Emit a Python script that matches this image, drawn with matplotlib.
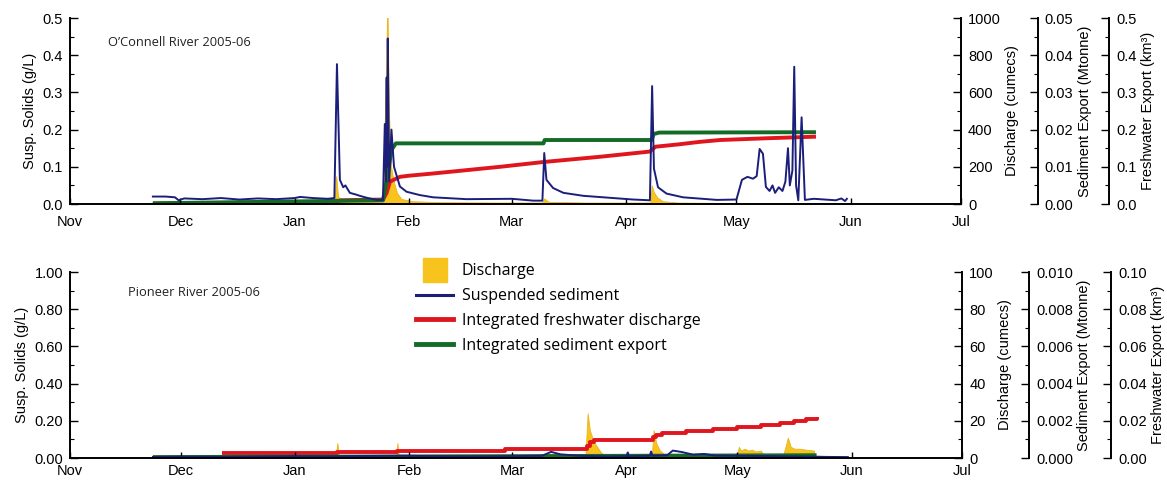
import numpy as np
import matplotlib
matplotlib.use("Agg")
import matplotlib.pyplot as plt
from matplotlib.lines import Line2D
from matplotlib.ticker import MultipleLocator, FormatStrFormatter

plt.rcParams['font.family'] = ['Liberation Sans', 'DejaVu Sans']
plt.rcParams['font.size'] = 10

# x axis: days since 1 Nov 2005
MONTHS = ['Nov', 'Dec', 'Jan', 'Feb', 'Mar', 'Apr', 'May', 'Jun', 'Jul']
MONTH_DAYS = [0, 30, 61, 92, 120, 151, 181, 212, 242]

YELLOW = '#f7c31c'
BLUE = '#1b1f7a'
RED = '#e0161e'
GREEN = '#136b25'

# ---- O'Connell River 2005-06 ----
oc_ss_day = [22.5, 26, 28.5, 29.5, 31, 36, 41, 46, 51, 56, 61, 62.5, 66, 70, 71.8, 72.5, 73.3, 74.2, 74.8,
             76, 77.8, 78.7, 80.5, 83.3, 85.0, 85.5, 85.8, 86.0, 86.15, 86.3, 86.7, 87.3, 88.0, 89.6, 91.4,
             95, 98.6, 107.7, 120, 125.8, 128.3, 128.8, 129.4, 131.2, 134, 139.4, 153, 157.5, 158.1, 158.6,
             159.7, 162, 166.5, 175.7, 181, 182.5, 184, 185.5, 186.5, 187.3, 188.2, 189, 190, 190.8, 191.5,
             192.5, 193.5, 194.3, 195, 195.5, 196.2, 196.7, 197.2, 197.8, 198.7, 199.6, 202, 205, 208,
             209.5, 210.5, 211]
oc_ss = [0.020, 0.020, 0.018, 0.010, 0.015, 0.013, 0.016, 0.012, 0.015, 0.013, 0.016, 0.019, 0.016, 0.014,
         0.016, 0.376, 0.065, 0.045, 0.050, 0.030, 0.025, 0.022, 0.017, 0.011, 0.011, 0.215, 0.060, 0.340,
         0.100, 0.445, 0.060, 0.200, 0.100, 0.047, 0.033, 0.024, 0.018, 0.013, 0.014, 0.009, 0.009, 0.137,
         0.065, 0.043, 0.030, 0.022, 0.012, 0.010, 0.317, 0.095, 0.045, 0.028, 0.018, 0.011, 0.012, 0.065,
         0.073, 0.068, 0.075, 0.148, 0.135, 0.046, 0.035, 0.050, 0.030, 0.045, 0.035, 0.060, 0.150, 0.050,
         0.090, 0.369, 0.050, 0.010, 0.233, 0.011, 0.014, 0.012, 0.010, 0.015, 0.008, 0.014]

oc_q_day = [22.5, 60, 71.8, 72.3, 72.8, 74, 78, 84.8, 85.3, 85.8, 86.2, 86.6, 87.2, 87.8, 88.8, 90, 93, 100,
            115, 128.3, 128.8, 130, 140, 157.6, 158.0, 158.5, 159.5, 161, 165, 180, 202.6]
oc_q = [4, 4, 5, 150, 40, 20, 12, 10, 300, 700, 1100, 500, 200, 130, 60, 27, 15, 10,
        8, 8, 30, 12, 8, 8, 100, 66, 35, 15, 8, 5, 4]

oc_fw_day = [22.5, 72, 73.5, 85, 86, 86.9, 89.6, 92, 98.6, 116.8, 128.7, 144, 157.5, 159, 165, 171, 176.5,
             190, 202.6]
oc_fw = [0.001, 0.002, 0.010, 0.012, 0.030, 0.060, 0.073, 0.076, 0.082, 0.100, 0.113, 0.127, 0.141, 0.154,
         0.160, 0.167, 0.172, 0.177, 0.181]

oc_sed_day = [22.5, 85, 86.3, 87.3, 88.5, 128.6, 128.9, 158.0, 158.5, 160, 202.6]
oc_sed = [0.0002, 0.001, 0.008, 0.0145, 0.0163, 0.0163, 0.0172, 0.0172, 0.0188, 0.0192, 0.0193]

# ---- Pioneer River 2005-06 ----
pi_ss_day = [22.5, 30, 40, 50, 60, 70, 80, 90, 100, 110, 120, 128, 130.5, 133, 138, 145, 151, 151.3, 151.6,
             157.3, 157.6, 158, 162, 163.5, 166, 169, 172, 175, 180, 190, 200, 205, 211]
pi_ss = [0.006, 0.007, 0.006, 0.008, 0.010, 0.009, 0.011, 0.012, 0.010, 0.009, 0.010, 0.012, 0.033, 0.020,
         0.012, 0.009, 0.010, 0.030, 0.010, 0.012, 0.035, 0.012, 0.015, 0.040, 0.032, 0.018, 0.022, 0.013,
         0.012, 0.010, 0.008, 0.006, 0.005]

pi_q_day = [22.5, 72, 72.5, 73, 88.5, 88.8, 89.2, 139.8, 140.4, 141, 142, 143, 144, 145.5, 157.8, 158.3, 159,
            160, 161.5, 165, 181, 181.4, 182, 183, 184, 185, 186, 187.4, 188, 193.5, 194.2, 194.7, 195.5,
            196.5, 198, 199.5, 201.8, 202]
pi_q = [0.5, 0.5, 8, 1, 1, 8, 1, 1, 24, 15, 9, 6, 3, 1, 1, 15, 8,
        4, 1.5, 1.5, 1.5, 6, 4, 5, 4, 4.5, 3.5, 4, 2, 2, 7, 11, 6,
        5, 5, 4.5, 4, 0]

pi_fw_day = [41.3, 72.5, 88.8, 118, 140.2, 141, 142, 158, 159, 160.5, 167, 174.5, 181, 187.5, 192.5, 196.5,
             199.5, 202.5]
pi_fw = [0.0025, 0.0030, 0.0038, 0.0048, 0.0065, 0.0085, 0.0097, 0.0112, 0.0124, 0.0133, 0.0145, 0.0154,
         0.0165, 0.0177, 0.0190, 0.0200, 0.0212, 0.0218]

pi_sed_day = [22.5, 120, 202.5]
pi_sed = [0.00005, 0.0001, 0.00015]


def style_right(axr, pos, ymax, major, minor, fmt, label):
    for s in ['top', 'bottom', 'left']:
        axr.spines[s].set_visible(False)
    axr.spines['right'].set_position(('axes', pos))
    axr.spines['right'].set_linewidth(1.4)
    axr.set_ylim(0, ymax)
    axr.yaxis.set_major_locator(MultipleLocator(major))
    axr.yaxis.set_minor_locator(MultipleLocator(minor))
    axr.yaxis.set_major_formatter(FormatStrFormatter(fmt))
    axr.tick_params(axis='y', which='major', direction='in', length=6, width=1.0, pad=5, labelsize=10.5)
    axr.tick_params(axis='y', which='minor', direction='in', length=3, width=0.8)
    axr.set_ylabel(label, fontsize=10.5, labelpad=3)


def panel(ax, title, title_xy, ss_day, ss, q_day, q, fw_day, fw, sed_day, sed, lims, fmts, xpad,
          steps=False):
    ss_max, q_max, sed_max, fw_max, pos_s, pos_f = lims
    axd = ax.twinx()
    axs = ax.twinx()
    axf = ax.twinx()
    style_right(axd, 1.0, q_max, q_max / 5, q_max / 10, fmts[1], 'Discharge (cumecs)')
    style_right(axs, pos_s, sed_max, sed_max / 5, sed_max / 10, fmts[2], 'Sediment Export (Mtonne)')
    style_right(axf, pos_f, fw_max, fw_max / 5, fw_max / 10, fmts[3], 'Freshwater Export (km³)')

    axd.fill_between(q_day, q, 0, color=YELLOW, lw=0.6, edgecolor='#e8b520')
    axf.plot(fw_day, fw, color=RED, lw=2.8, drawstyle='steps-post' if steps else 'default',
             solid_capstyle='butt')
    axs.plot(sed_day, sed, color=GREEN, lw=2.8, solid_capstyle='butt')
    ax.plot(ss_day, ss, color=BLUE, lw=1.4)

    axd.set_zorder(1)
    axf.set_zorder(2)
    axs.set_zorder(3)
    ax.set_zorder(4)
    ax.patch.set_visible(False)

    ax.set_xlim(0, 242)
    ax.set_ylim(0, ss_max)
    ax.set_xticks(MONTH_DAYS)
    ax.set_xticklabels(MONTHS)
    ax.yaxis.set_major_locator(MultipleLocator(ss_max / 5))
    ax.yaxis.set_minor_locator(MultipleLocator(ss_max / 10))
    ax.yaxis.set_major_formatter(FormatStrFormatter(fmts[0]))
    ax.tick_params(axis='x', direction='in', length=4, width=1.0, pad=xpad, labelsize=10.5)
    ax.tick_params(axis='y', which='major', direction='in', length=6, width=1.0, pad=5, labelsize=10.5)
    ax.tick_params(axis='y', which='minor', direction='in', length=3, width=0.8)
    ax.spines['top'].set_visible(False)
    ax.spines['right'].set_visible(False)
    ax.spines['left'].set_linewidth(1.4)
    ax.spines['bottom'].set_linewidth(1.4)
    ax.set_ylabel('Susp. Solids (g/L)', fontsize=10.5, labelpad=4)
    ax.text(title_xy[0], title_xy[1], title, transform=ax.transAxes, fontsize=9.3,
            family=['Open Sans', 'DejaVu Sans'], color='#222222', va='center')


fig = plt.figure(figsize=(11.67, 4.8), dpi=100)
ax1 = fig.add_axes([0.060, 0.575, 0.7635, 0.3875])
ax2 = fig.add_axes([0.060, 0.0458, 0.7645, 0.3875])

panel(ax1, 'O’Connell River 2005-06', (0.043, 0.87), oc_ss_day, oc_ss, oc_q_day, oc_q, oc_fw_day, oc_fw,
      oc_sed_day, oc_sed, (0.5, 1000, 0.05, 0.5, 1.086, 1.166), ('%.1f', '%d', '%.2f', '%.1f'), 8)
panel(ax2, 'Pioneer River 2005-06', (0.065, 0.892), pi_ss_day, pi_ss, pi_q_day, pi_q, pi_fw_day, pi_fw,
      pi_sed_day, pi_sed, (1.0, 100, 0.010, 0.10, 1.075, 1.167), ('%.2f', '%d', '%.3f', '%.2f'), 4.5,
      steps=True)

handles = [Line2D([], [], marker='s', ms=17, color=YELLOW, linestyle='none'),
           Line2D([], [], color=BLUE, lw=2.2),
           Line2D([], [], color=RED, lw=3.5),
           Line2D([], [], color=GREEN, lw=3.5)]
labels = ['Discharge', 'Suspended sediment', 'Integrated freshwater discharge', 'Integrated sediment export']
fig.legend(handles, labels, loc='upper left', bbox_to_anchor=(0.350, 0.468), frameon=False,
           prop={'family': ['Open Sans', 'DejaVu Sans'], 'size': 11.5}, handlelength=2.3,
           handletextpad=0.55, labelspacing=0.55, borderpad=0)

fig.savefig('out.png', dpi=100, facecolor='white')
